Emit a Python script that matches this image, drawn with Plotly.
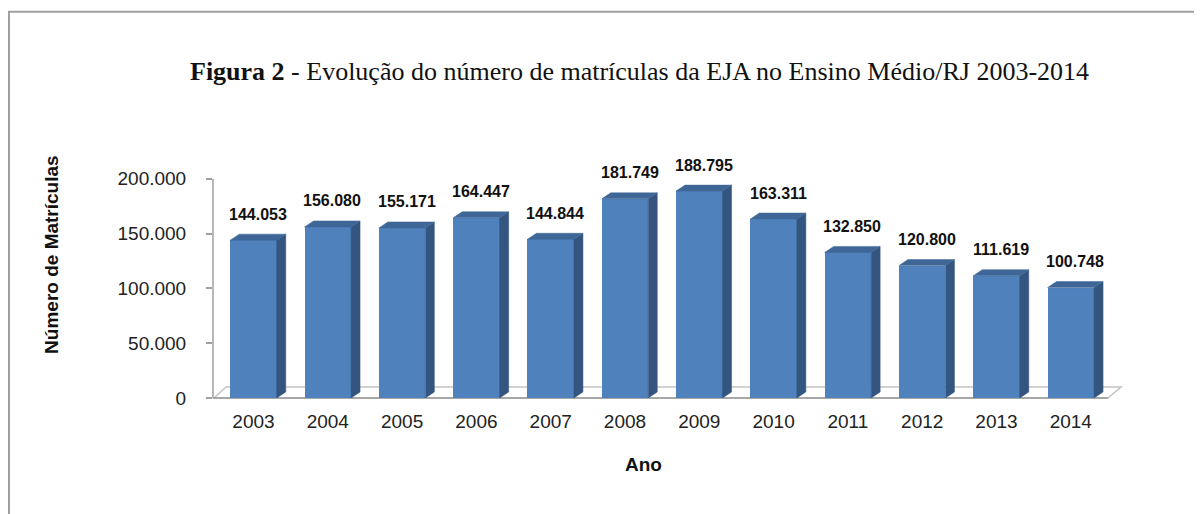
import plotly.graph_objects as go

years = ["2003", "2004", "2005", "2006", "2007", "2008", "2009", "2010", "2011", "2012", "2013", "2014"]
matriculas = [144053, 156080, 155171, 164447, 144844, 181749, 188795, 163311, 132850, 120800, 111619, 100748]
value_labels = ["144.053", "156.080", "155.171", "164.447", "144.844", "181.749", "188.795",
                "163.311", "132.850", "120.800", "111.619", "100.748"]
y_tickvals = [0, 50000, 100000, 150000, 200000]
y_ticktext = ["0", "50.000", "100.000", "150.000", "200.000"]

# ---- layout geometry (pixels, in reference image coordinates) ----
PAGE_OFF = 8            # default body margin of the html page
W, H = 1202, 514
YMAX = 200000           # top of the value axis
YTOP = 240000           # headroom for the value labels
L, R, B = 213, 1125, 398
PX_PER_UNIT = 219 / YMAX
T = B - YTOP * PX_PER_UNIT
PW, PH = R - L, B - T
STEP = 74.3          # px per category
X0 = -(253.5 - L) / STEP
X1 = X0 + PW / STEP
BAR_W = 46.5 / STEP
DX = 9 / STEP
DY = 6 / PX_PER_UNIT
LABEL_OFF = 26 / PX_PER_UNIT


def px(x):
    return (x - L) / PW


def py(y):
    return (B - y) / PH


xs = list(range(len(years)))

FRONT = "#4F81BD"
SIDE = "#33557F"
TOP = "#3E6797"
AXIS = "#a0a0a0"

fig = go.Figure()
fig.add_trace(go.Bar(x=xs, y=matriculas, width=BAR_W, marker=dict(color=FRONT, line=dict(width=0)),
                     hoverinfo="skip", showlegend=False))

side_x, side_y, top_x, top_y = [], [], [], []
for i, v in zip(xs, matriculas):
    r = i + BAR_W / 2
    l = i - BAR_W / 2
    side_x += [r, r + DX, r + DX, r, r, None]
    side_y += [0, DY, v + DY, v, 0, None]
    top_x += [l, l + DX, r + DX, r, l, None]
    top_y += [v, v + DY, v + DY, v, v, None]

fig.add_trace(go.Scatter(x=side_x, y=side_y, mode="lines", fill="toself", fillcolor=SIDE,
                         line=dict(width=0.5, color=SIDE), hoverinfo="skip", showlegend=False))
fig.add_trace(go.Scatter(x=top_x, y=top_y, mode="lines", fill="toself", fillcolor=TOP,
                         line=dict(width=0.5, color=TOP), hoverinfo="skip", showlegend=False))

shapes = [
    # outer border (left & top)
    dict(type="path", xref="paper", yref="paper",
         path=f"M {px(9)} {py(530)} L {px(9)} {py(12)} L {px(1215)} {py(12)}",
         line=dict(color=AXIS, width=2), layer="below"),
    # floor
    dict(type="path", xref="paper", yref="paper",
         path=f"M {px(214)} {py(398)} L {px(1108)} {py(398)} L {px(1121)} {py(387)} L {px(226)} {py(387)} Z",
         line=dict(color="#c4c4c4", width=1.5), fillcolor="white", layer="below"),
    dict(type="line", xref="paper", yref="paper", x0=px(213), x1=px(1108), y0=py(398), y1=py(398),
         line=dict(color="#999999", width=1.5), layer="below"),
    # value axis line (0 .. YMAX)
    dict(type="line", xref="paper", yref="y", x0=0, x1=0, y0=0, y1=YMAX,
         line=dict(color=AXIS, width=1.5), layer="below"),
]

annotations = [
    dict(text="<b>Figura 2</b> - Evolução do número de matrículas da EJA no Ensino Médio/RJ 2003-2014",
         x=px(639), y=py(72), xref="paper", yref="paper", showarrow=False,
         font=dict(family="Liberation Serif", size=26, color="#111111"), xanchor="center", yanchor="middle"),
    dict(text="<b>Número de Matrículas</b>", x=px(52), y=py(255), xref="paper", yref="paper",
         showarrow=False, textangle=-90, font=dict(family="Liberation Sans", size=19, color="#111111"),
         xanchor="center", yanchor="middle"),
    dict(text="<b>Ano</b>", x=px(643), y=py(464), xref="paper", yref="paper", showarrow=False,
         font=dict(family="Liberation Sans", size=19, color="#111111"), xanchor="center", yanchor="middle"),
]
for i, v, lab in zip(xs, matriculas, value_labels):
    annotations.append(dict(text=f"<b>{lab}</b>", x=i + DX / 2, y=v + LABEL_OFF, xref="x", yref="y",
                            showarrow=False, xanchor="center", yanchor="middle",
                            font=dict(family="Liberation Sans", size=16, color="#111111")))

fig.update_layout(
    width=W - PAGE_OFF, height=H - PAGE_OFF,
    margin=dict(l=L - PAGE_OFF, r=W - R, t=T - PAGE_OFF, b=H - B, pad=0),
    paper_bgcolor="white", plot_bgcolor="rgba(0,0,0,0)",
    shapes=shapes, annotations=annotations,
    xaxis=dict(range=[X0, X1], tickvals=xs, ticktext=years, showgrid=False, zeroline=False,
               showline=False, ticks="", ticklabelstandoff=10,
               tickfont=dict(family="Liberation Sans", size=19, color="#222222"), fixedrange=True),
    yaxis=dict(range=[0, YTOP], tickvals=y_tickvals, ticktext=y_ticktext, showgrid=False,
               zeroline=False, showline=False,
               ticks="outside", ticklen=6, tickcolor=AXIS, tickwidth=1.5, ticklabelstandoff=16,
               tickfont=dict(family="Liberation Sans", size=19, color="#222222"), fixedrange=True),
    bargap=0,
)

fig.write_html("out.html")
